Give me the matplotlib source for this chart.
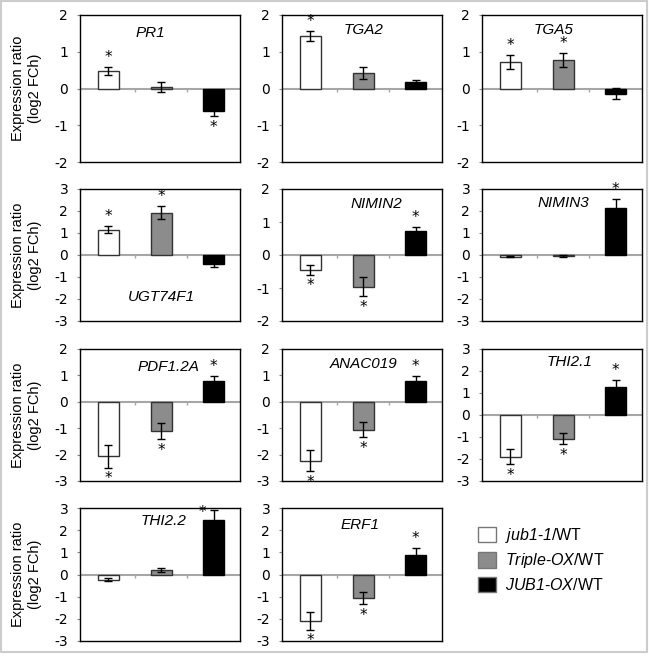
import numpy as np
import matplotlib
matplotlib.use('Agg')
import matplotlib.pyplot as plt
from matplotlib.patches import Patch, Rectangle

plt.rcParams['font.family'] = ['DejaVu Sans']
plt.rcParams['axes.unicode_minus'] = False
# only the italic parts of the legend labels are mathtext, digits included
plt.rcParams['mathtext.fontset'] = 'custom'
plt.rcParams['mathtext.it'] = 'Liberation Sans:italic'
plt.rcParams['mathtext.rm'] = 'Liberation Sans:italic'

# log2 fold changes
genes = ['PR1', 'TGA2', 'TGA5', 'UGT74F1', 'NIMIN2', 'NIMIN3',
         'PDF1.2A', 'ANAC019', 'THI2.1', 'THI2.2', 'ERF1']
jub1_1 = [0.48, 1.43, 0.72, 1.15, -0.45, -0.08, -2.07, -2.23, -1.90, -0.23, -2.09]
jub1_1_err = [0.11, 0.14, 0.19, 0.15, 0.15, 0.03, 0.42, 0.40, 0.34, 0.08, 0.40]
triple_ox = [0.05, 0.42, 0.78, 1.93, -0.96, -0.05, -1.10, -1.05, -1.08, 0.20, -1.06]
triple_ox_err = [0.14, 0.17, 0.19, 0.29, 0.29, 0.03, 0.31, 0.30, 0.26, 0.08, 0.29]
jub1_ox = [-0.60, 0.17, -0.14, -0.43, 0.72, 2.15, 0.79, 0.77, 1.28, 2.45, 0.88]
jub1_ox_err = [0.16, 0.07, 0.15, 0.13, 0.13, 0.38, 0.19, 0.20, 0.32, 0.45, 0.30]
# significance marks (jub1-1, Triple-OX, JUB1-OX)
signif = [(1, 0, 1), (1, 0, 0), (1, 1, 0), (1, 1, 0), (1, 1, 1), (0, 0, 1),
          (1, 1, 1), (1, 1, 1), (1, 1, 1), (0, 0, 1), (1, 1, 1)]
ylims = [(-2, 2), (-2, 2), (-2, 2), (-3, 3), (-2, 2), (-3, 3),
         (-3, 2), (-3, 2), (-3, 3), (-3, 3), (-3, 3)]
legend_labels = [r'$jub1$-$1$/WT', r'$Triple$-$OX$/WT', r'$JUB1$-$OX$/WT']

# layout (pixels) and styles
W, H = 649, 656
col_left = [80, 282, 482]
col_w = 160
rows = [(15, 162), (189, 321), (349, 481), (508, 641)]
title_pos = [(0.44, 0.88), (0.51, 0.90), (0.45, 0.90), (0.51, 0.18), (0.59, 0.89),
             (0.51, 0.895), (0.55, 0.86), (0.51, 0.89), (0.55, 0.90), (0.52, 0.90),
             (0.49, 0.87)]
fills = ['white', '#8c8c8c', 'black']
edges = ['#333333', '#333333', 'black']

fig = plt.figure(figsize=(W / 100, H / 100), dpi=100)
fig.patches.append(Rectangle((0.0015, 0.006), 0.995, 0.9925, transform=fig.transFigure,
                             fill=False, edgecolor='#cccccc', lw=1.5))

x = np.arange(3)
for i, gene in enumerate(genes):
    r, c = divmod(i, 3)
    top, bot = rows[r]
    ax = fig.add_axes([col_left[c] / W, 1 - bot / H, col_w / W, (bot - top) / H])
    vals = [jub1_1[i], triple_ox[i], jub1_ox[i]]
    errs = [jub1_1_err[i], triple_ox_err[i], jub1_ox_err[i]]
    lo, hi = ylims[i]
    ax.axhline(0, color='#a6a6a6', lw=1.5, zorder=1)
    ax.vlines(x[:-1] + 0.5, 0, -(hi - lo) * 0.025, color='#a6a6a6', lw=1, zorder=1)
    ax.bar(x, vals, width=0.4, color=fills, edgecolor=edges, linewidth=1, zorder=2)
    ax.errorbar(x, vals, yerr=errs, fmt='none', ecolor='black', elinewidth=1,
                capsize=3, capthick=1, zorder=3)
    for j in range(3):
        if not signif[i][j]:
            continue
        v, e = vals[j], errs[j]
        if v >= 0 and v + e > hi - 0.4:
            # no room above the bar: star goes to its left
            ax.annotate('*', (x[j], v + e), xytext=(-8, -2), textcoords='offset points',
                        ha='center', va='center', fontsize=11)
        elif v >= 0:
            ax.annotate('*', (x[j], v + e), xytext=(0, 7), textcoords='offset points',
                        ha='center', va='center', fontsize=11)
        else:
            ax.annotate('*', (x[j], v - e), xytext=(0, -8), textcoords='offset points',
                        ha='center', va='center', fontsize=11)
    ax.set_xlim(-0.54, 2.5)
    ax.set_ylim(lo, hi)
    ax.set_xticks([])
    ax.set_yticks(range(lo, hi + 1))
    ax.tick_params(axis='y', length=2.5, color='#888888', pad=6, labelsize=10)
    for s in ax.spines.values():
        s.set_color('black')
        s.set_linewidth(1.0)
    tx, ty = title_pos[i]
    ax.text(tx, ty, gene, transform=ax.transAxes, ha='center', va='center',
            fontsize=11, style='italic', family='Liberation Sans')
    if c == 0:
        ax.set_ylabel('Expression ratio\n(log2 FCh)', fontsize=10.5,
                      family='Liberation Sans')
        ax.yaxis.set_label_coords(-0.24, 0.5)

handles = [Patch(facecolor=f, edgecolor='#777777', lw=1) for f in fills]
fig.legend(handles, legend_labels, loc='upper left',
           bbox_to_anchor=(478 / W, 1 - 526 / H), frameon=False,
           prop={'family': 'Liberation Sans', 'size': 11.5},
           handlelength=1.1, handleheight=1.1, handletextpad=0.6,
           labelspacing=0.4, borderpad=0, borderaxespad=0)

fig.savefig('out.png', dpi=100)
